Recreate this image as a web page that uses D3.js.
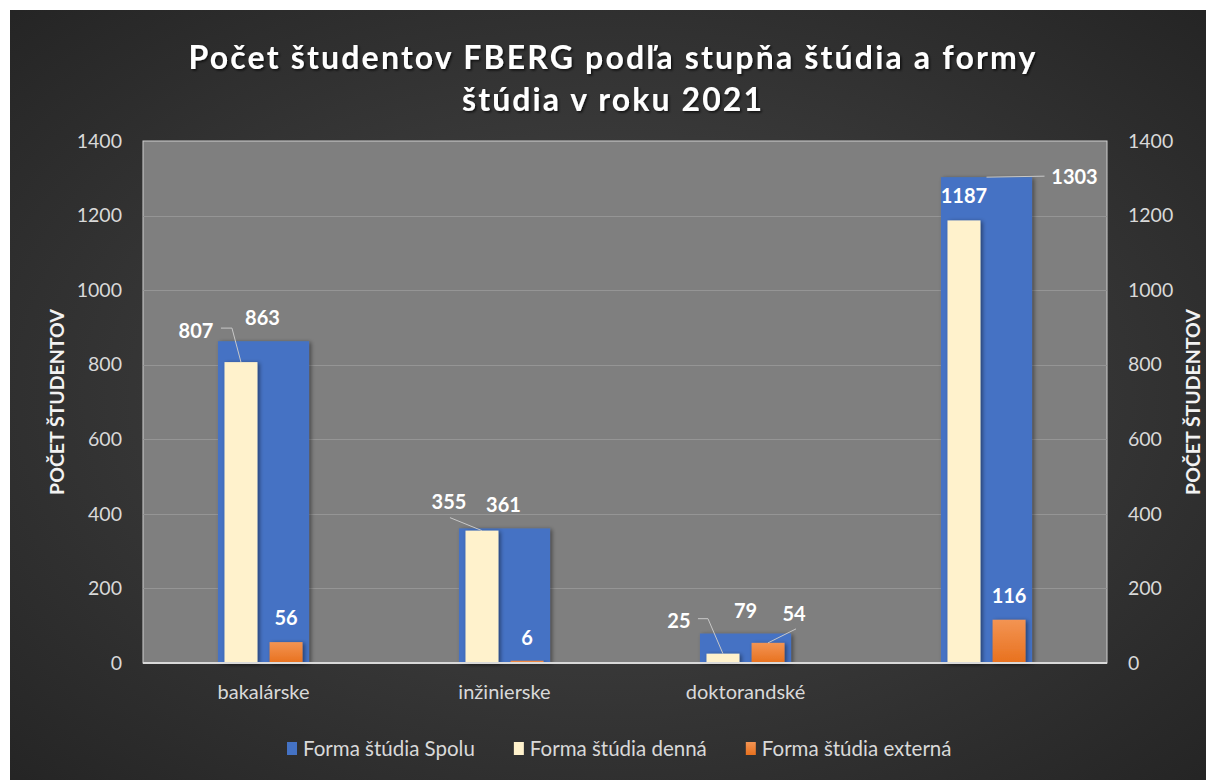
<!DOCTYPE html>
<html>
<head>
<meta charset="utf-8">
<script src="https://cdn.jsdelivr.net/npm/d3@7"></script>
<style>
  body { margin: 0; background: #fff; }
  svg { display: block; }
  text { font-family: Lato, "Open Sans", "Noto Sans", sans-serif; }
</style>
</head>
<body>
<svg id="chart" width="1206" height="780"></svg>
<script>
// ---------- DATA ----------
const categories = ["bakalárske", "inžinierske", "doktorandské", ""];
const seriesNames = ["Forma štúdia Spolu", "Forma štúdia denná", "Forma štúdia externá"];
const spolu   = [863, 361, 79, 1303];
const denna   = [807, 355, 25, 1187];
const externa = [56, 6, 54, 116];
const yTicks  = [0, 200, 400, 600, 800, 1000, 1200, 1400];
const titleLines = ["Počet študentov FBERG podľa stupňa štúdia a formy", "štúdia v roku 2021"];
const axisTitle = "POČET ŠTUDENTOV";

// ---------- LAYOUT ----------
const W = 1206, H = 780;
const plot = { left: 143, top: 141, right: 1107, bottom: 663 };
const colors = { spolu: "#4472c4", denna: "#fff2cc", externa: "#ed7d31" };
// label placement relative to bar-top centre: [dx, dy] of label centre, optional leader (points relative to label centre)
const labelLayout = {
  spolu:   [ {d:[-1,-24]}, {d:[-1,-24]}, {d:[0,-24]}, {d:[88,-1], leader:[[-30,0]]} ],
  denna:   [ {d:[-45,-32], leader:[[25,-2],[36,-2]]}, {d:[-33,-30], leader:[[1,17]]},
             {d:[-44,-34], leader:[[19,-1],[29,-1]]}, {d:[0,-25]} ],
  externa: [ {d:[0,-25]}, {d:[0,-24]}, {d:[26,-30], leader:[[2,16]]}, {d:[0,-25]} ]
};

const svg = d3.select("#chart");
const defs = svg.append("defs");

const bg = defs.append("radialGradient").attr("id", "bgGrad")
  .attr("cx", "50%").attr("cy", "50%").attr("r", "72%");
bg.append("stop").attr("offset", "0%").attr("stop-color", "#4a4a4a");
bg.append("stop").attr("offset", "100%").attr("stop-color", "#242424");

const og = defs.append("linearGradient").attr("id", "orangeGrad")
  .attr("x1", 0).attr("y1", 0).attr("x2", 0).attr("y2", 1);
og.append("stop").attr("offset", "0%").attr("stop-color", "#f39453");
og.append("stop").attr("offset", "100%").attr("stop-color", "#e8711e");

const sh = defs.append("filter").attr("id", "shadow")
  .attr("x", "-20%").attr("y", "-20%").attr("width", "140%").attr("height", "140%");
sh.append("feDropShadow").attr("dx", 2).attr("dy", 1).attr("stdDeviation", 2)
  .attr("flood-color", "#000").attr("flood-opacity", 0.45);

const tsh = defs.append("filter").attr("id", "tshadow")
  .attr("x", "-10%").attr("y", "-30%").attr("width", "120%").attr("height", "160%");
tsh.append("feDropShadow").attr("dx", 1.5).attr("dy", 1.5).attr("stdDeviation", 1.2)
  .attr("flood-color", "#000").attr("flood-opacity", 0.7);

// background
svg.append("rect").attr("x", 10).attr("y", 10).attr("width", W - 10).attr("height", H - 10)
  .attr("fill", "url(#bgGrad)");

// scales
const x = d3.scaleBand().domain(d3.range(categories.length)).range([plot.left, plot.right]).padding(0);
const y = d3.scaleLinear().domain([0, 1400]).range([plot.bottom, plot.top]);
const inner = d3.scaleBand().domain(["denna", "externa"]).range([-39, 39]).paddingInner(0.27);
const spoluW = x.bandwidth() * 0.378;

// plot area
svg.append("rect").attr("x", plot.left).attr("y", plot.top)
  .attr("width", plot.right - plot.left).attr("height", plot.bottom - plot.top)
  .attr("fill", "#7f7f7f").attr("stroke", "#d0d0d0").attr("stroke-width", 1);

// gridlines
svg.append("g").selectAll("line").data(yTicks.filter(t => t > 0 && t < 1400)).join("line")
  .attr("x1", plot.left).attr("x2", plot.right)
  .attr("y1", d => Math.round(y(d)) + 0.5).attr("y2", d => Math.round(y(d)) + 0.5)
  .attr("stroke", "#959595").attr("stroke-width", 1);

// axes (labels only)
const fmt = d3.format("d");
const leftAxis = d3.axisLeft(y).tickValues(yTicks).tickFormat(fmt).tickSize(0).tickPadding(21);
const gL = svg.append("g").attr("transform", `translate(${plot.left},0)`).call(leftAxis);
const rightAxis = d3.axisRight(y).tickValues(yTicks).tickFormat(fmt).tickSize(0).tickPadding(21);
const gR = svg.append("g").attr("transform", `translate(${plot.right},0)`).call(rightAxis);
[gL, gR].forEach(g => {
  g.select(".domain").remove();
  g.selectAll("text").attr("fill", "#d9d9d9").style("font-size", "19.5px")
    .style("font-family", "Lato, 'Open Sans', sans-serif");
});

const xAxis = d3.axisBottom(x).tickFormat(i => categories[i]).tickSize(0).tickPadding(22);
const gX = svg.append("g").attr("transform", `translate(0,${plot.bottom})`).call(xAxis);
gX.select(".domain").remove();
gX.selectAll("text").attr("fill", "#d9d9d9").style("font-size", "20px")
  .style("font-family", "Lato, 'Open Sans', sans-serif");

// bars: Spolu (wide, behind)
const barsG = svg.append("g");
barsG.selectAll("rect.spolu").data(spolu).join("rect").attr("class", "spolu")
  .attr("x", (d, i) => x(i) + x.bandwidth() / 2 - spoluW / 2)
  .attr("y", d => y(d)).attr("width", spoluW).attr("height", d => y(0) - y(d))
  .attr("fill", colors.spolu).attr("filter", "url(#shadow)");

barsG.selectAll("rect.denna").data(denna).join("rect").attr("class", "denna")
  .attr("x", (d, i) => x(i) + x.bandwidth() / 2 + inner("denna"))
  .attr("y", d => y(d)).attr("width", inner.bandwidth()).attr("height", d => y(0) - y(d))
  .attr("fill", colors.denna).attr("filter", "url(#shadow)");

barsG.selectAll("rect.externa").data(externa).join("rect").attr("class", "externa")
  .attr("x", (d, i) => x(i) + x.bandwidth() / 2 + inner("externa"))
  .attr("y", d => y(d)).attr("width", inner.bandwidth()).attr("height", d => y(0) - y(d))
  .attr("fill", "url(#orangeGrad)").attr("filter", "url(#shadow)");

// baseline
svg.append("line").attr("x1", plot.left).attr("x2", plot.right)
  .attr("y1", plot.bottom).attr("y2", plot.bottom)
  .attr("stroke", "#d9d9d9").attr("stroke-width", 2);

// data labels
const labelsG = svg.append("g");
function addLabels(vals, key, offsetX) {
  vals.forEach((v, i) => {
    const bx = x(i) + x.bandwidth() / 2 + offsetX;
    const by = y(v);
    const lay = labelLayout[key][i];
    const lx = bx + lay.d[0], ly = by + lay.d[1];
    if (lay.leader) {
      const pts = lay.leader.map(p => [lx + p[0], ly + p[1]]);
      pts.push([bx, by]);
      labelsG.append("path").attr("d", d3.line()(pts))
        .attr("fill", "none").attr("stroke", "#c8c8c8").attr("stroke-width", 1);
    }
    labelsG.append("text").attr("x", lx).attr("y", ly)
      .attr("text-anchor", "middle").attr("dominant-baseline", "central")
      .attr("fill", "#ffffff").style("font-size", "20px").style("font-weight", "bold")
      .text(v);
  });
}
addLabels(spolu, "spolu", 0);
addLabels(denna, "denna", inner("denna") + inner.bandwidth() / 2);
addLabels(externa, "externa", inner("externa") + inner.bandwidth() / 2);

// title
const titleG = svg.append("g").attr("filter", "url(#tshadow)");
const titleTargets = [847, 300];
const titleY = [69, 111];
titleLines.forEach((t, i) => {
  titleG.append("text").attr("x", 612).attr("y", titleY[i]).attr("text-anchor", "middle")
    .attr("fill", "#ffffff").style("font-size", "32px").style("font-weight", "bold")
    .attr("textLength", titleTargets[i]).attr("lengthAdjust", "spacing")
    .text(t);
});

// axis titles
svg.append("text").attr("transform", "translate(64,402) rotate(-90)")
  .attr("text-anchor", "middle").attr("fill", "#f2f2f2")
  .style("font-size", "19.5px").style("font-weight", "bold").text(axisTitle);
svg.append("text").attr("transform", "translate(1200,402) rotate(-90)")
  .attr("text-anchor", "middle").attr("fill", "#f2f2f2")
  .style("font-size", "19.5px").style("font-weight", "bold").text(axisTitle);

// legend
const legendColors = [colors.spolu, colors.denna, colors.externa];
const legG = svg.append("g");
let lxp = 287;
seriesNames.forEach((n, i) => {
  legG.append("rect").attr("x", lxp).attr("y", 742).attr("width", 10).attr("height", 13)
    .attr("fill", i === 2 ? "url(#orangeGrad)" : legendColors[i]);
  const tx = legG.append("text").attr("x", lxp + 16).attr("y", 756)
    .attr("fill", "#d9d9d9").style("font-size", "20.5px").text(n);
  const w = tx.node().getComputedTextLength();
  lxp += 16 + w + 39;
});
</script>
</body>
</html>
